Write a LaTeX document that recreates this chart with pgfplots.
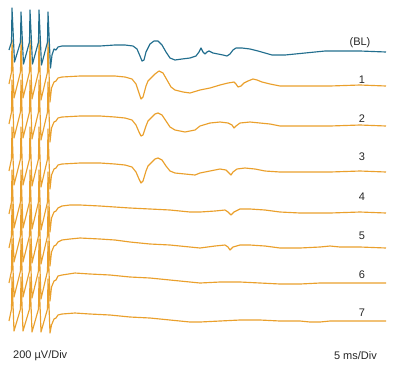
\documentclass[border=0pt]{standalone}
\usepackage{pgfplots}
\pgfplotsset{compat=1.18}
\usepackage{fontspec}
\setmainfont{Liberation Sans}
\definecolor{blt}{RGB}{34,110,142}
\definecolor{ort}{RGB}{234,160,44}
\begin{document}
\begin{tikzpicture}
\begin{axis}[
  scale only axis, width=395pt, height=368pt,
  xmin=0, xmax=395, ymin=0, ymax=368, y dir=reverse,
  hide axis, clip=false,
  every axis plot/.append style={line width=1.15pt, line join=round},
]
\path (axis cs:0,0) rectangle (axis cs:395,368);
% trace 1 (b=80)
\addplot[ort] coordinates {(9,84)(11.5,72)(12,40)(14,98)(20.5,72)(21,40)(23,98)(29.5,72)(30,40)(32,99)(38.5,72)(39,40)(41,100)(47.5,72)(48,42)(50,102)(51.5,88)(54,82)(56,81)
(58,78)(62,77)(80,76)(100,76)(115,76)(125,77)(132,79)(136,84)(139,93)(141,99)(143,97)(146,86)(148,81)(151,78)(155,74)(159,71)(163,73)(167,80)(171,87)(175,90)(183,92)(190,93)(200,90)(210,88)(220,85)(228,83)(234,82)(236,84)(238,87)(241,86)(244,83)(248,81)(253,79)(257,80)(262,82)(270,84)(280,86)(300,86)(330,86)(360,85)(386,86)};
% trace 2 (b=120)
\addplot[ort] coordinates {(9,124)(11.5,112)(12,80)(14,138)(20.5,112)(21,80)(23,138)(29.5,112)(30,80)(32,139)(38.5,112)(39,80)(41,140)(47.5,112)(48,82)(50,142)(51.5,128)(54,122)(56,121)
(58,118)(62,117)(80,116)(100,116)(115,117)(125,118)(132,120)(136,125)(139,132)(141,136)(143,135)(146,126)(148,121)(151,118)(155,114)(158,113)(162,115)(166,121)(170,127)(175,130)(185,132)(195,130)(200,126)(210,123)(220,122)(228,123)(232,125)(234,128)(236,126)(240,123)(250,122)(260,123)(270,124)(280,126)(300,126)(330,126)(360,125)(386,126)};
% trace 3 (b=167)
\addplot[ort] coordinates {(9,171)(11.5,159)(12,127)(14,185)(20.5,159)(21,127)(23,185)(29.5,159)(30,127)(32,186)(38.5,159)(39,127)(41,187)(47.5,159)(48,129)(50,189)(51.5,175)(54,169)(56,168)
(58,165)(62,164)(80,163)(100,163)(115,164)(125,165)(132,167)(136,172)(139,179)(141,183)(143,181)(146,171)(148,166)(151,163)(155,159)(158,158)(162,160)(166,166)(170,171)(175,173)(185,174)(195,175)(200,173)(210,171)(220,169)(226,170)(229,173)(231,175)(233,172)(237,169)(245,168)(255,169)(265,171)(280,172)(300,172)(330,172)(360,171)(386,172)};
% trace 4 (b=210)
\addplot[ort] coordinates {(9,214)(11.5,202)(12,170)(14,228)(20.5,202)(21,170)(23,228)(29.5,202)(30,170)(32,229)(38.5,202)(39,170)(41,230)(47.5,202)(48,172)(50,232)(51.5,218)(54,212)(56,211)
(58,208)(62,206)(70,205)(80,205)(100,206)(115,207)(130,208)(150,209)(170,210)(190,212)(200,212)(215,211)(225,210)(228,212)(231,215)(234,212)(240,209)(250,209)(265,210)(280,212)(300,213)(330,213)(360,212)(386,213)};
% trace 5 (b=244)
\addplot[ort] coordinates {(9,248)(11.5,236)(12,204)(14,262)(20.5,236)(21,204)(23,262)(29.5,236)(30,204)(32,263)(38.5,236)(39,204)(41,264)(47.5,236)(48,206)(50,266)(51.5,252)(54,246)(56,245)
(58,242)(62,240)(70,239)(80,238)(100,239)(115,240)(130,242)(150,244)(170,245)(190,247)(200,248)(215,246)(225,245)(228,247)(230,250)(233,247)(240,245)(250,245)(265,246)(280,248)(300,248)(320,247)(330,246)(340,247)(360,247)(386,248)};
% trace 6 (b=279)
\addplot[ort] coordinates {(9,283)(11.5,271)(12,239)(14,297)(20.5,271)(21,239)(23,297)(29.5,271)(30,239)(32,298)(38.5,271)(39,239)(41,299)(47.5,271)(48,241)(50,301)(51.5,287)(54,281)(56,280)
(58,276)(62,275)(75,273)(90,274)(110,275)(130,277)(150,278)(170,280)(190,282)(200,283)(220,282)(240,282)(260,283)(280,284)(300,284)(320,283)(340,283)(360,283)(386,283)};
% trace 7 (b=317)
\addplot[ort] coordinates {(9,321)(11.5,309)(12,277)(14,331)(20.5,309)(21,277)(23,331)(29.5,309)(30,277)(32,332)(38.5,309)(39,277)(41,332)(47.5,309)(48,279)(50,333)(51.5,325)(54,319)(56,318)
(58,315)(62,314)(75,313)(90,314)(110,315)(130,317)(150,318)(170,320)(190,322)(200,322)(220,321)(240,320)(260,320)(280,321)(300,321)(310,322)(320,322)(330,321)(360,321)(386,321)};
% baseline
\addplot[blt] coordinates {(9,50)(11.5,42)(12,8)(14.5,62)(20.5,42)(21,12)(23.5,64)(29.5,42)(30,10)(32.5,64)(38.5,42)(39,10)(41.5,65)(47.5,42)(48,12)(50.5,68)(52,55)(54,49)(56,50)(58,47)(62,46)(80,46)(100,46)(115,45)(125,45)(133,46)(137,49)(140,56)(142,61)(144,60)(146,52)(150,44)(154,41)(158,41)(162,45)(166,52)(170,58)(175,60)(182,59)(190,58)(196,56)(199,52)(201,48)(203,52)(205,54)(207,52)(209,51)(213,53)(218,54)(223,55)(227,56)(230,54)(233,50)(236,48)(242,48)(250,49)(258,51)(265,53)(272,55)(278,55)(285,55)(295,54)(305,53)(315,52)(325,51)(340,51)(360,51)(386,52)};
\begin{scope}[every node/.style={font=\fontsize{11}{13}\selectfont, text=black!85, inner sep=0pt}]
\node at (axis cs:360,43) {(BL)};
\node at (axis cs:362,80) {1};
\node at (axis cs:362,119) {2};
\node at (axis cs:362,157) {3};
\node at (axis cs:362,197) {4};
\node at (axis cs:362,236) {5};
\node at (axis cs:362,275) {6};
\node at (axis cs:362,313) {7};
\node[anchor=west] at (axis cs:13,356) {200 µV/Div};
\node[anchor=east] at (axis cs:377,356) {5 ms/Div};
\end{scope}
\end{axis}
\end{tikzpicture}
\end{document}
